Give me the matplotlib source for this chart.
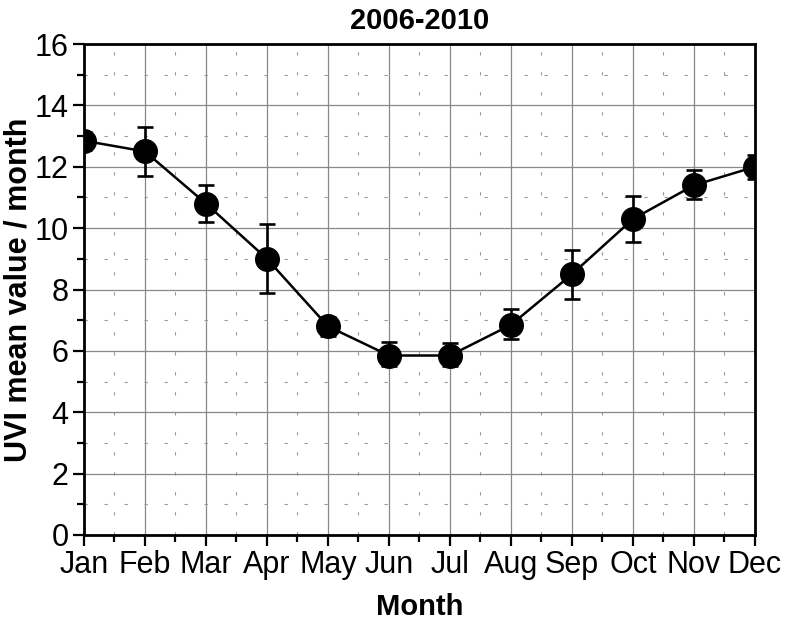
import numpy as np
import matplotlib.pyplot as plt
from matplotlib.ticker import MultipleLocator

# monthly UVI means 2006-2010
months = ["Jan", "Feb", "Mar", "Apr", "May", "Jun",
          "Jul", "Aug", "Sep", "Oct", "Nov", "Dec"]
uvi_mean = [12.85, 12.5, 10.8, 9.0, 6.8, 5.85, 5.85, 6.85, 8.5, 10.3, 11.4, 12.0]
err_up = [0.3, 0.8, 0.6, 1.15, 0.3, 0.45, 0.4, 0.5, 0.8, 0.75, 0.5, 0.4]
err_down = [0.3, 0.8, 0.6, 1.1, 0.3, 0.35, 0.35, 0.45, 0.8, 0.75, 0.45, 0.4]

plt.rcParams['font.family'] = ['Liberation Sans', 'DejaVu Sans']

fig = plt.figure(figsize=(7.88, 6.21), dpi=100)
ax = fig.add_axes([0.1066, 0.1385, 0.8515, 0.7905])

x = np.arange(len(months))
ax.errorbar(x, uvi_mean, yerr=[err_down, err_up], color="black", lw=1.8,
            marker="o", markersize=17, elinewidth=1.9, capsize=6, capthick=1.9,
            zorder=5)

ax.set_xlim(0, 11)
ax.set_ylim(0, 16)
ax.set_xticks(x)
ax.set_xticklabels(months)
ax.xaxis.set_minor_locator(MultipleLocator(0.5))
ax.yaxis.set_major_locator(MultipleLocator(2))
ax.yaxis.set_minor_locator(MultipleLocator(1))

ax.grid(True, which="major", color="#888888", lw=0.9)
ax.grid(True, which="minor", color="#999999", lw=0.8, linestyle=(0, (3, 15)))
ax.set_axisbelow(True)

for s in ax.spines.values():
    s.set_linewidth(2)
ax.tick_params(which="major", direction="out", length=8, width=1.6,
               labelsize=22, pad=3)
ax.tick_params(which="minor", direction="out", length=5, width=1.6)

ax.set_title("2006-2010", fontsize=21, fontweight="bold", pad=11)
ax.set_xlabel("Month", fontsize=21, fontweight="bold", labelpad=9)
ax.set_ylabel("UVI mean value / month", fontsize=22, fontweight="bold",
              labelpad=1)

fig.savefig("out.png", dpi=100)
